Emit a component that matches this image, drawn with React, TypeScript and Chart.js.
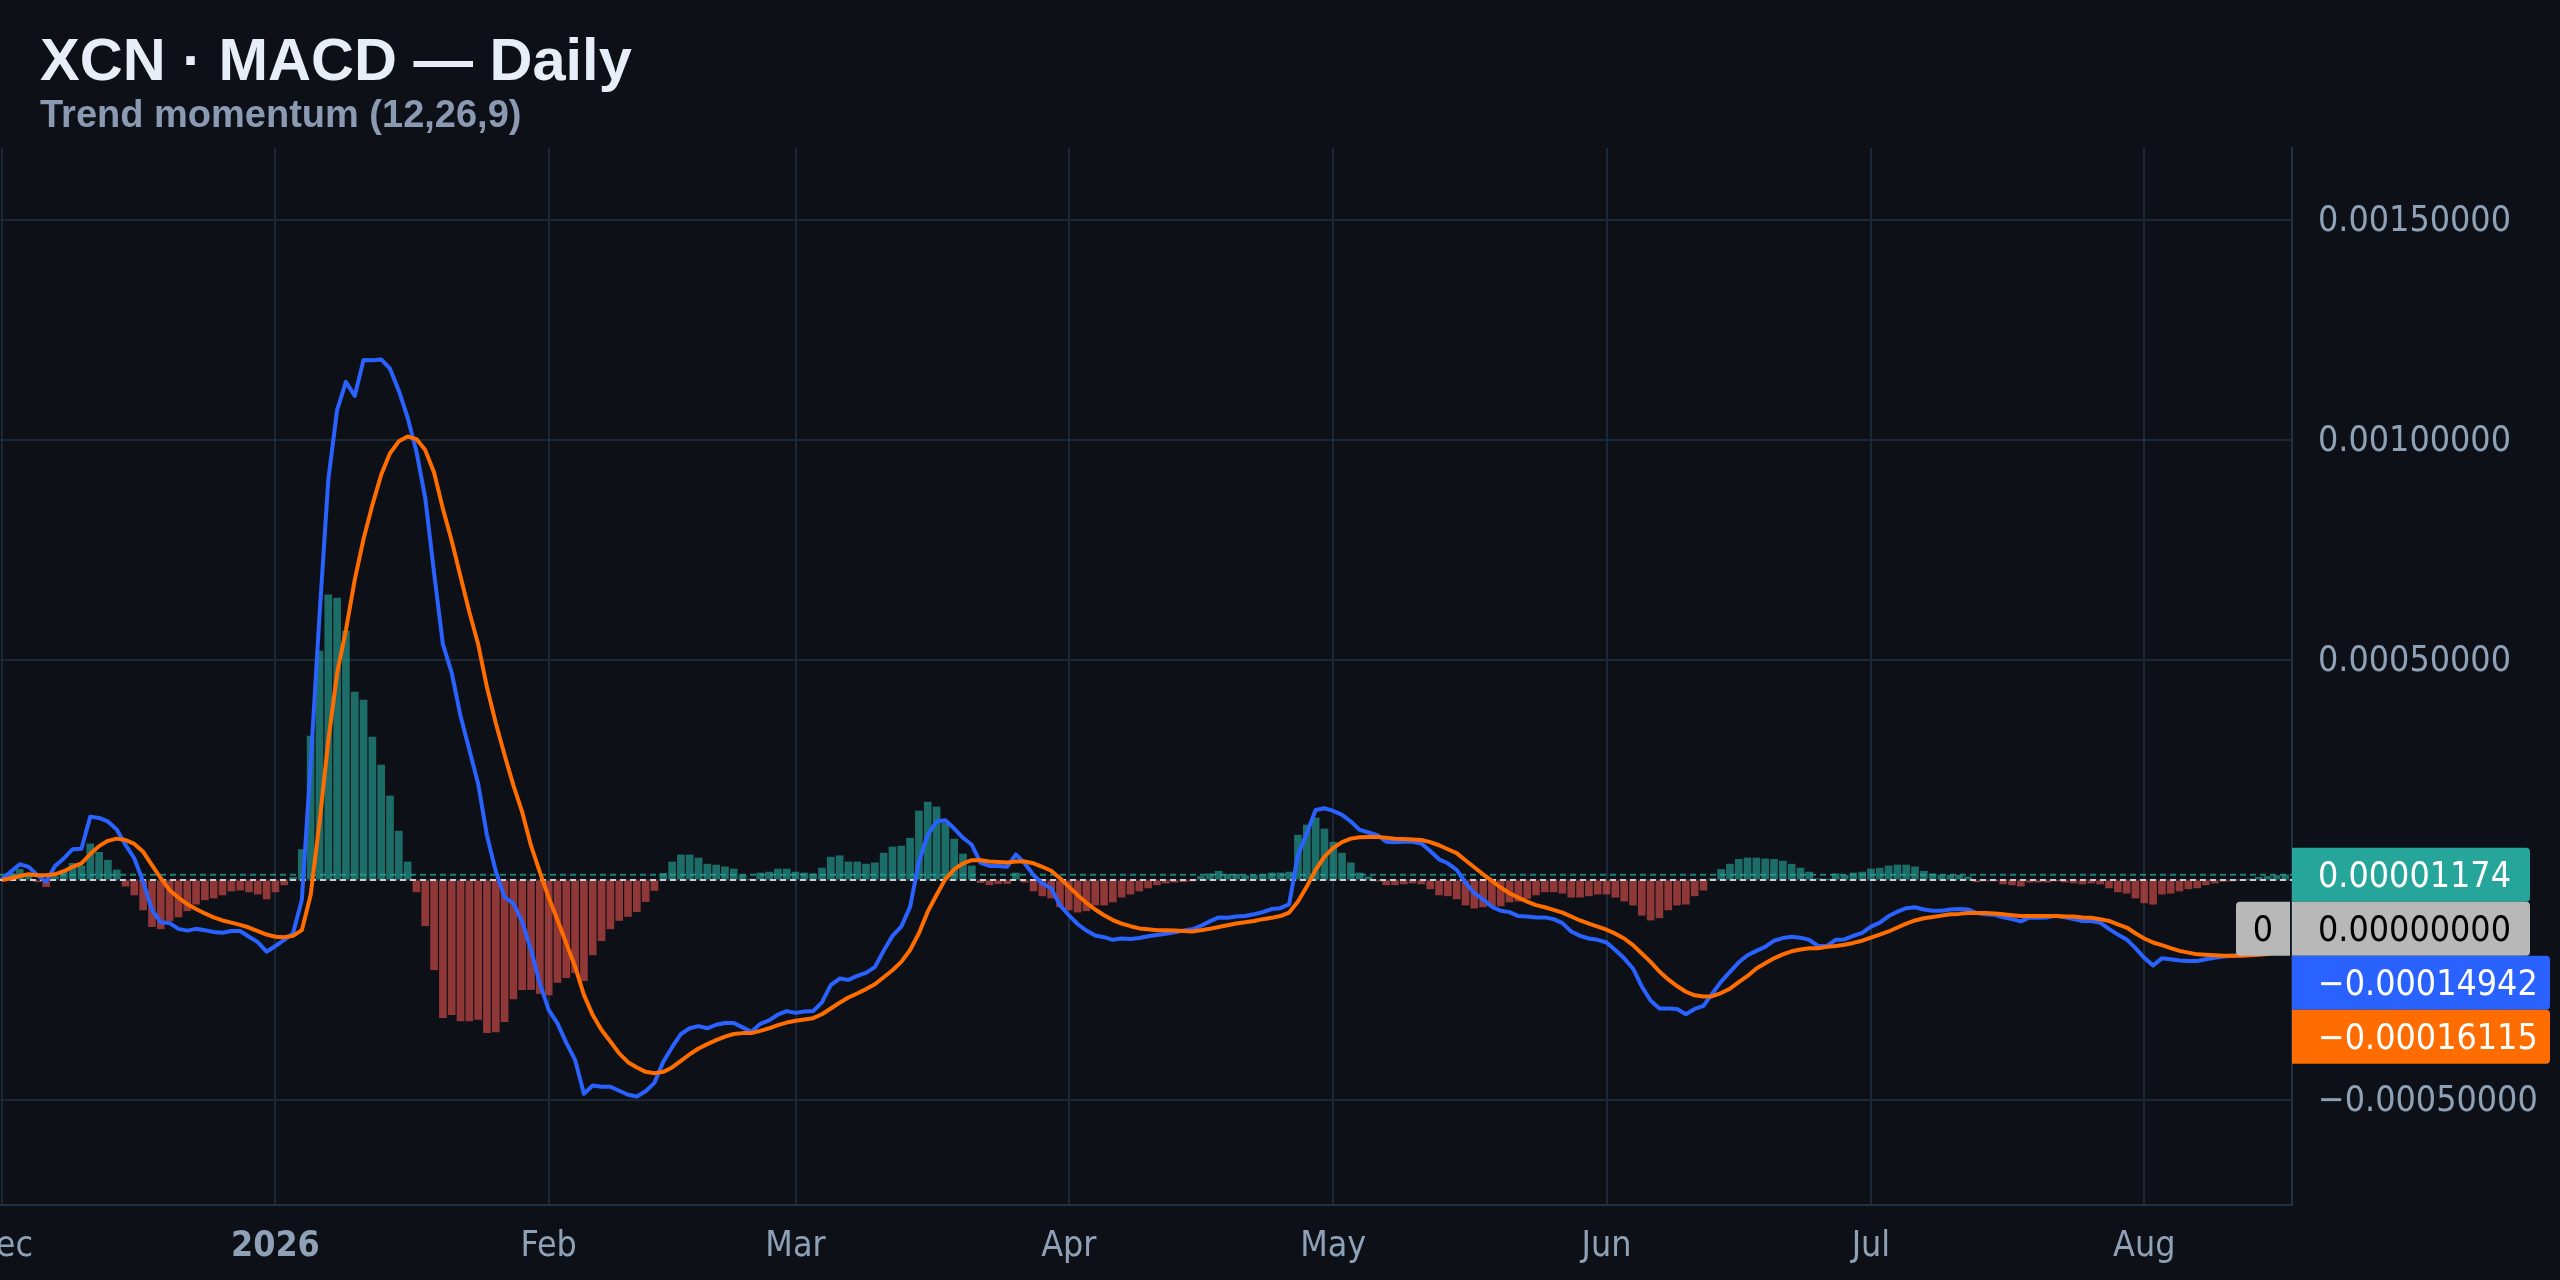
import React, { useEffect, useRef } from 'react';
import { Chart, registerables } from 'chart.js';

Chart.register(...registerables);

// all series are in millionths, one value per day starting 1 Dec
const histMicro = [
  5, 15, 24, 11, -4, -15, 8, 19, 38, 32,
  82, 63, 45, 23, -14, -34, -68, -106, -111, -93,
  -84, -70, -55, -45, -41, -34, -25, -23, -27, -32,
  -43, -27, -11, 6, 69, 327, 520, 648, 641, 566,
  427, 409, 325, 261, 191, 111, 41, -27, -104, -204,
  -313, -306, -320, -320, -317, -347, -345, -322, -270, -249,
  -249, -258, -261, -233, -222, -211, -229, -170, -138, -111,
  -92, -83, -72, -49, -24, 15, 41, 57, 57, 50,
  36, 34, 30, 25, 11, 1, 16, 18, 25, 25,
  18, 16, 14, 27, 52, 55, 41, 41, 36, 39,
  61, 75, 77, 95, 157, 177, 166, 129, 93, 59,
  32, -6, -11, -8, -8, 16, -5, -25, -36, -41,
  -61, -68, -73, -70, -57, -57, -50, -39, -32, -25,
  -18, -11, -7, -5, -4, -1, 8, 14, 20, 13,
  13, 10, 11, 13, 16, 16, 18, 102, 125, 141,
  116, 86, 61, 39, 16, 7, -2, -11, -11, -9,
  -7, -9, -20, -34, -36, -43, -57, -64, -61, -59,
  -59, -50, -48, -42, -34, -27, -27, -30, -39, -39,
  -36, -32, -32, -39, -48, -57, -80, -91, -86, -68,
  -57, -55, -36, -23, 3, 24, 36, 47, 50, 50,
  48, 47, 43, 36, 27, 18, 3, 1, 14, 11,
  16, 18, 25, 27, 32, 34, 34, 30, 20, 14,
  11, 11, 11, 7, -4, -2, -1, -9, -11, -14,
  -5, -5, -5, -1, -5, -7, -9, -7, -9, -18,
  -27, -30, -41, -52, -55, -32, -30, -25, -20, -18,
  -11, -7, -3, -1.5, 0, 2, 6, 8, 10, 11.74,
];

const macdMicro = [
  2, 19, 36, 30, 11, -4, 32, 49, 70, 71,
  144, 141, 133, 115, 80, 49, -4, -68, -96, -98,
  -111, -115, -111, -114, -118, -120, -116, -116, -129, -141,
  -163, -150, -136, -121, -45, 264, 600, 909, 1068, 1132,
  1100, 1182, 1181, 1183, 1162, 1112, 1051, 974, 868, 698,
  536, 471, 373, 296, 219, 101, 20, -39, -53, -95,
  -159, -235, -295, -326, -370, -409, -486, -467, -470, -470,
  -479, -488, -492, -480, -461, -413, -380, -350, -337, -332,
  -337, -329, -325, -325, -335, -345, -327, -319, -306, -298,
  -302, -299, -298, -278, -239, -224, -227, -218, -211, -198,
  -161, -127, -106, -61, 42, 102, 133, 136, 117, 96,
  80, 39, 32, 32, 30, 58, 38, 11, -8, -19,
  -57, -80, -100, -115, -126, -130, -136, -133, -134, -132,
  -128, -125, -122, -119, -115, -112, -104, -94, -85, -86,
  -83, -82, -78, -73, -66, -64, -55, 57, 106, 159,
  163, 157, 148, 133, 114, 108, 102, 87, 86, 87,
  87, 83, 66, 47, 38, 23, -6, -30, -44, -61,
  -70, -73, -82, -83, -85, -85, -89, -98, -117, -127,
  -133, -136, -142, -159, -178, -201, -242, -274, -292, -292,
  -293, -305, -293, -286, -258, -231, -209, -187, -171, -161,
  -152, -138, -132, -129, -131, -136, -150, -150, -136, -135,
  -127, -120, -106, -97, -82, -72, -64, -62, -67, -70,
  -70, -67, -66, -67, -75, -78, -79, -85, -89, -94,
  -85, -86, -85, -81, -85, -89, -93, -93, -97, -111,
  -124, -135, -155, -177, -194, -178, -180, -183, -184, -184,
  -180, -177, -174, -172, -171, -170, -165, -160, -155, -149.42,
];

const signalMicro = [
  0, 4, 9, 13, 11, 11, 13, 20, 30, 38,
  59, 77, 89, 94, 91, 82, 64, 34, 4, -23,
  -40, -55, -66, -76, -85, -92, -97, -102, -108, -116,
  -124, -129, -130, -127, -114, -34, 130, 316, 470, 568,
  682, 775, 852, 921, 970, 997, 1008, 1002, 977, 926,
  844, 771, 690, 609, 536, 438, 357, 284, 215, 154,
  78, 18, -40, -91, -144, -197, -261, -307, -341, -367,
  -394, -414, -426, -436, -439, -436, -426, -411, -396, -383,
  -373, -364, -356, -350, -348, -348, -343, -337, -330, -324,
  -320, -317, -314, -305, -292, -279, -267, -258, -248, -237,
  -221, -205, -186, -159, -121, -72, -34, 2, 24, 38,
  45, 45, 42, 41, 40, 42, 42, 38, 30, 21,
  4, -15, -34, -52, -67, -80, -91, -99, -105, -110,
  -112, -114, -114, -115, -116, -117, -114, -111, -107, -103,
  -99, -96, -93, -89, -86, -82, -74, -49, -15, 23,
  53, 73, 86, 94, 97, 98, 98, 96, 94, 93,
  92, 91, 86, 79, 70, 61, 45, 29, 13, -2,
  -17, -30, -40, -49, -57, -62, -68, -74, -83, -92,
  -99, -106, -113, -122, -133, -148, -167, -186, -208, -226,
  -241, -254, -262, -265, -264, -257, -247, -232, -218, -201,
  -189, -178, -169, -162, -158, -155, -155, -152, -150, -147,
  -143, -138, -131, -124, -117, -108, -99, -92, -87, -84,
  -81, -78, -77, -75, -75, -75, -76, -78, -80, -82,
  -82, -82, -82, -82, -83, -83, -85, -86, -89, -93,
  -101, -108, -121, -133, -142, -148, -155, -161, -165, -169,
  -170, -171, -172, -172, -172, -171, -170, -168, -165, -161.15,
];

// month starts, as day offsets from 1 Dec
const monthDays = [0, 31, 62, 90, 121, 151, 182, 212, 243];
const monthLabels = ['Dec', '2026', 'Feb', 'Mar', 'Apr', 'May', 'Jun', 'Jul', 'Aug'];
const priceTicks = [0.0015, 0.001, 0.0005, 0, -0.0005];

const lastHist = 0.00001174;
const lastZero = 0;
const lastMacd = -0.00014942;
const lastSignal = -0.00016115;

const BG = '#0d1117';
const GRID = '#1c2836';
const AXIS = '#223044';
const TICK = '#8fa1b7';
const TEAL = '#26a69a';
const BLUE = '#2962ff';
const ORANGE = '#ff6d00';
const GREY = '#b8b8b8';
const FONT = '"DejaVu Sans Condensed", "DejaVu Sans", sans-serif';
const TITLE_FONT = '"Liberation Sans", Arial, sans-serif';

const fmt = (v: number) => (v < 0 ? '\u2212' : '') + Math.abs(v).toFixed(8);
const toPoints = (arr: number[]) => arr.map((v, i) => ({ x: i, y: v * 1e-6 }));

const overlay = {
  id: 'overlay',
  afterDraw(chart: any) {
    const { ctx, scales } = chart;
    const y = scales.y;
    const left = chart.chartArea.right;

    ctx.save();
    ctx.textBaseline = 'alphabetic';
    ctx.textAlign = 'left';
    ctx.fillStyle = '#e8eef7';
    ctx.font = `bold 59.5px ${TITLE_FONT}`;
    ctx.fillText('XCN \u00b7 MACD \u2014 Daily', 40, 80);
    ctx.fillStyle = '#8b9ab3';
    ctx.font = `bold 38px ${TITLE_FONT}`;
    ctx.fillText('Trend momentum (12,26,9)', 40, 127);

    // last value badges, pushed down when they would overlap
    const badges = [
      { v: lastHist, bg: TEAL, fg: '#ffffff', w: 238 },
      { v: lastZero, bg: GREY, fg: '#000000', w: 238 },
      { v: lastMacd, bg: BLUE, fg: '#ffffff', w: 258 },
      { v: lastSignal, bg: ORANGE, fg: '#ffffff', w: 258 },
    ];
    const h = 54;
    let prevBottom = -Infinity;
    ctx.font = `35.5px ${FONT}`;
    ctx.textBaseline = 'middle';
    badges.forEach((b) => {
      const top = Math.max(y.getPixelForValue(b.v) - h / 2, prevBottom);
      prevBottom = top + h;
      ctx.fillStyle = b.bg;
      ctx.beginPath();
      ctx.roundRect(left, top, b.w, h, [0, 4, 4, 0]);
      ctx.fill();
      ctx.fillStyle = b.fg;
      ctx.fillText(fmt(b.v), left + 26, top + h / 2 + 3);
      if (b.v === lastZero) {
        ctx.fillStyle = GREY;
        ctx.beginPath();
        ctx.roundRect(left - 56, top, 54, h, [4, 0, 0, 4]);
        ctx.fill();
        ctx.fillStyle = b.fg;
        ctx.textAlign = 'center';
        ctx.fillText('0', left - 29, top + h / 2 + 3);
        ctx.textAlign = 'left';
      }
    });
    ctx.restore();
  },
};

const App: React.FC = () => {
  const canvasRef = useRef<HTMLCanvasElement>(null);

  useEffect(() => {
    if (!canvasRef.current) return;
    const xMin = -0.24;
    const xMax = 259.76;
    const chart = new Chart(canvasRef.current, {
      type: 'bar',
      data: {
        datasets: [
          {
            type: 'bar',
            data: toPoints(histMicro),
            backgroundColor: histMicro.map((v) =>
              v >= 0 ? 'rgba(38,166,154,0.62)' : 'rgba(239,83,80,0.58)'
            ),
            barThickness: 7,
            order: 5,
          },
          {
            type: 'line',
            data: [{ x: xMin, y: lastHist }, { x: xMax, y: lastHist }],
            borderColor: 'rgba(38,166,154,0.75)',
            borderWidth: 2,
            borderDash: [6, 4],
            pointRadius: 0,
            order: 4,
          },
          {
            type: 'line',
            data: [{ x: xMin, y: lastZero }, { x: xMax, y: lastZero }],
            borderColor: '#cfcfcf',
            borderWidth: 2,
            borderDash: [6, 4],
            pointRadius: 0,
            order: 3,
          },
          {
            type: 'line',
            data: toPoints(macdMicro),
            borderColor: BLUE,
            borderWidth: 4,
            borderJoinStyle: 'round',
            pointRadius: 0,
            tension: 0,
            order: 2,
          },
          {
            type: 'line',
            data: toPoints(signalMicro),
            borderColor: ORANGE,
            borderWidth: 4,
            borderJoinStyle: 'round',
            pointRadius: 0,
            tension: 0,
            order: 1,
          },
        ] as any,
      },
      options: {
        animation: false,
        responsive: false,
        devicePixelRatio: 1,
        layout: { autoPadding: false, padding: { top: 148, left: 0, right: 0, bottom: 0 } },
        plugins: { legend: { display: false }, tooltip: { enabled: false } },
        scales: {
          x: {
            type: 'linear',
            min: xMin,
            max: xMax,
            offset: false,
            afterBuildTicks: (axis: any) => {
              axis.ticks = monthDays.map((value) => ({ value }));
            },
            afterFit: (axis: any) => {
              axis.height = 75;
              axis.paddingLeft = 0;
              axis.paddingRight = 0;
            },
            grid: { color: GRID, lineWidth: 2, drawTicks: false, offset: false },
            border: { color: AXIS, width: 2 },
            ticks: {
              autoSkip: false,
              maxRotation: 0,
              padding: 20,
              color: TICK,
              callback: (value: any) => monthLabels[monthDays.indexOf(Number(value))],
              font: (ctx: any) => ({
                family: FONT,
                size: 35.5,
                weight: ctx.tick && ctx.tick.label === '2026' ? 'bold' : 'normal',
              }),
            },
          } as any,
          y: {
            type: 'linear',
            position: 'right',
            min: (880 - 1205) / 440000,
            max: (880 - 148) / 440000,
            afterBuildTicks: (axis: any) => {
              axis.ticks = priceTicks.map((value) => ({ value }));
            },
            afterFit: (axis: any) => {
              axis.width = 268;
              axis.paddingTop = 0;
              axis.paddingBottom = 0;
            },
            grid: { color: GRID, lineWidth: 2, drawTicks: false },
            border: { color: AXIS, width: 2 },
            ticks: {
              padding: 26,
              labelOffset: 2,
              color: TICK,
              font: { family: FONT, size: 35.5 },
              callback: (value: any) => fmt(Number(value)),
            },
          } as any,
        },
      },
      plugins: [overlay],
    });
    return () => chart.destroy();
  }, []);

  return (
    <div style={{ position: 'fixed', left: 0, top: 0, width: 2560, height: 1280, background: BG }}>
      <canvas ref={canvasRef} width={2560} height={1280} style={{ display: 'block' }} />
    </div>
  );
};

export default App;
